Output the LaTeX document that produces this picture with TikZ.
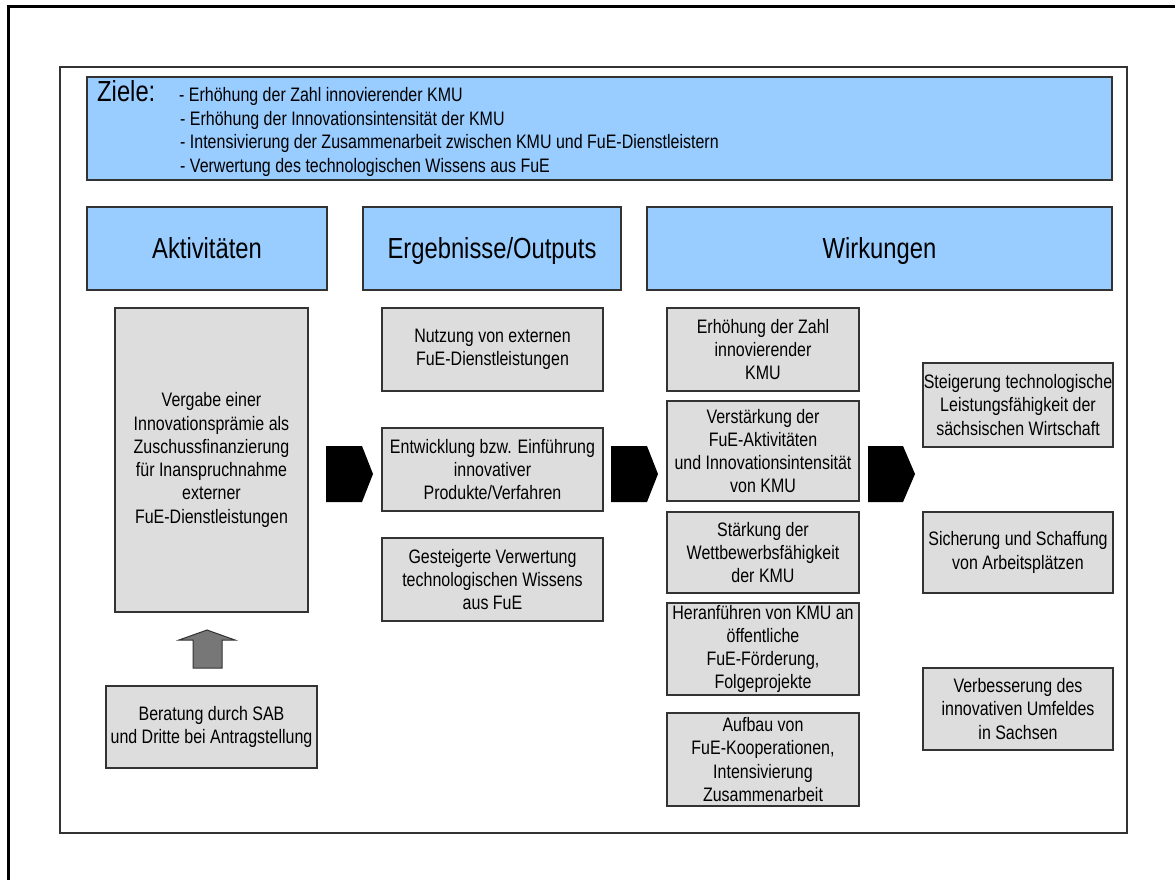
\documentclass[tikz,border=0pt]{standalone}
\usepackage{fontspec}
\setmainfont{Liberation Sans}[FakeStretch=0.82]
\usetikzlibrary{fit}
\definecolor{skyb}{HTML}{99CCFF}
\definecolor{boxgray}{HTML}{DDDDDD}
\definecolor{arrowgray}{HTML}{777777}
\definecolor{edgegray}{HTML}{333333}
\begin{document}
\begin{tikzpicture}[x=1pt,y=-1pt,
  bigfont/.style={font=\fontsize{29}{34}\selectfont},
  smallfont/.style={font=\fontsize{19.5}{23.3}\selectfont},
  bluebox/.style={draw=edgegray, line width=1.3pt, fill=skyb, inner sep=0pt},
  graybox/.style={draw=edgegray, line width=1.3pt, fill=boxgray, inner sep=0pt},
  boxtext/.style={smallfont, align=center, inner sep=0pt},
  headtext/.style={bigfont, inner sep=0pt, text height=20.8pt, text depth=0pt},
  goalline/.style={smallfont, anchor=base west, inner sep=0pt},
  chevron/.style={fill=black},
  uparrow/.style={fill=arrowgray, draw=edgegray, line width=1pt, line join=miter}
]
\useasboundingbox (0,0) rectangle (1175,880);
% outer cropped frame
\draw[line width=2.7pt] (8.7,880) -- (8.7,6.5) -- (1175,6.5);
% inner frame
\node[draw=edgegray, line width=1.4pt, inner sep=0pt, fit={(60,67) (1127,833)}] (frame) {};
% goals
\node[bluebox, fit={(87,77) (1112,180)}] (ziele) {};
\node[bigfont, anchor=base west, inner sep=0pt] (zl) at (97,102) {Ziele:};
\node[goalline] (z1) at (179,102) {- Erhöhung der Zahl innovierender KMU};
\node[goalline] (z2) at (180,125.5) {- Erhöhung der Innovationsintensität der KMU};
\node[goalline] (z3) at (180,149) {- Intensivierung der Zusammenarbeit zwischen KMU und FuE-Dienstleistern};
\node[goalline] (z4) at (180,172.5) {- Verwertung des technologischen Wissens aus FuE};
% headers
\node[bluebox, fit={(87,207) (327,290)}] (hakt) {};
\node[headtext] (hakt-t) at (hakt.center) {Aktivitäten};
\node[bluebox, fit={(363,207) (621,290)}] (herg) {};
\node[headtext] (herg-t) at (herg.center) {Ergebnisse/Outputs};
\node[bluebox, fit={(647,207) (1112,290)}] (hwir) {};
\node[headtext] (hwir-t) at (hwir.center) {Wirkungen};
% activities
\node[graybox, fit={(115,308) (308,612)}] (vergabe) {};
\node[boxtext] (vergabe-t) at (vergabe.center) {Vergabe einer\\Innovationsprämie als\\Zuschussfinanzierung\\für Inanspruchnahme\\externer\\FuE-Dienstleistungen};
\node[graybox, fit={(106,686) (317,768)}] (beratung) {};
\node[boxtext] (beratung-t) at (beratung.center) {Beratung durch SAB\\und Dritte bei Antragstellung};
% outputs
\node[graybox, fit={(382,308) (603,391)}] (nutzung) {};
\node[boxtext] (nutzung-t) at (nutzung.center) {Nutzung von externen\\FuE-Dienstleistungen};
\node[graybox, fit={(382,428) (603,511)}] (entw) {};
\node[boxtext] (entw-t) at (entw.center) {Entwicklung bzw. Einführung\\innovativer\\Produkte/Verfahren};
\node[graybox, fit={(382,538) (603,621)}] (gest) {};
\node[boxtext] (gest-t) at (gest.center) {Gesteigerte Verwertung\\technologischen Wissens\\aus FuE};
% effects, column 1
\node[graybox, fit={(667,308) (859,391)}] (erh) {};
\node[boxtext] (erh-t) at (erh.center) {Erhöhung der Zahl\\innovierender\\KMU};
\node[graybox, fit={(667,401) (859,501)}] (verst) {};
\node[boxtext] (verst-t) at (verst.center) {Verstärkung der\\FuE-Aktivitäten\\und Innovationsintensität\\von KMU};
\node[graybox, fit={(667,512) (859,593)}] (staerk) {};
\node[boxtext] (staerk-t) at (staerk.center) {Stärkung der\\Wettbewerbsfähigkeit\\der KMU};
\node[graybox, fit={(667,603) (859,695)}] (heran) {};
\node[boxtext] (heran-t) at (heran.center) {Heranführen von KMU an\\öffentliche\\FuE-Förderung,\\Folgeprojekte};
\node[graybox, fit={(667,713) (859,806)}] (aufbau) {};
\node[boxtext] (aufbau-t) at (aufbau.center) {Aufbau von\\FuE-Kooperationen,\\Intensivierung\\Zusammenarbeit};
% effects, column 2
\node[graybox, fit={(923,363) (1113,447)}] (steig) {};
\node[boxtext] (steig-t) at (steig.center) {Steigerung technologische\\Leistungsfähigkeit der\\sächsischen Wirtschaft};
\node[graybox, fit={(923,512) (1113,593)}] (sich) {};
\node[boxtext] (sich-t) at (sich.center) {Sicherung und Schaffung\\von Arbeitsplätzen};
\node[graybox, fit={(923,668) (1113,750)}] (verb) {};
\node[boxtext] (verb-t) at (verb.center) {Verbesserung des\\innovativen Umfeldes\\in Sachsen};
% chevrons
\fill[chevron] (326,446) -- (362,446) -- (373,474) -- (362,502) -- (326,502) -- cycle;
\fill[chevron] (611,446) -- (647,446) -- (658,474) -- (647,502) -- (611,502) -- cycle;
\fill[chevron] (868,446) -- (903,446) -- (915,474) -- (903,502) -- (868,502) -- cycle;
% block arrow from Beratung up to Vergabe
\draw[uparrow] (193,668) -- (193,640) -- (179,640) -- (207,630) -- (235,640) -- (222,640) -- (222,668) -- cycle;
\end{tikzpicture}
\end{document}
